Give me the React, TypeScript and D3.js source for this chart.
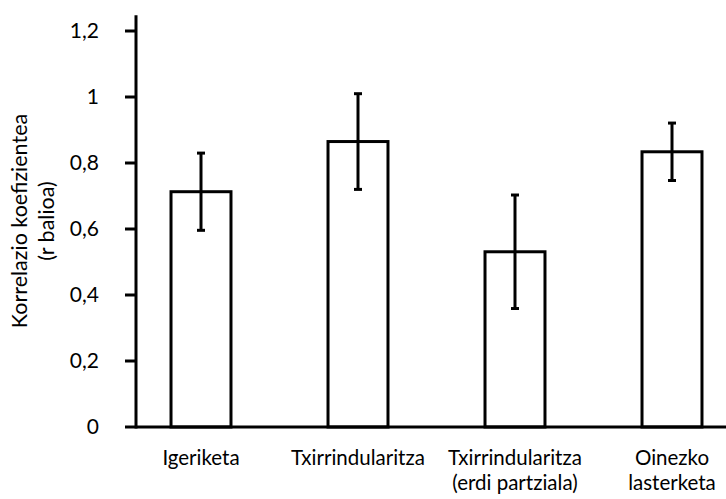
import React from "react";
import * as d3 from "d3";

const categories: string[][] = [
  ["Igeriketa"],
  ["Txirrindularitza"],
  ["Txirrindularitza", "(erdi partziala)"],
  ["Oinezko", "lasterketa"],
];
const values = [0.713, 0.865, 0.531, 0.834];
const errors = [0.117, 0.145, 0.172, 0.087];
const yTicks = [0, 0.2, 0.4, 0.6, 0.8, 1, 1.2];
const yTitle = ["Korrelazio koefizientea", "(r balioa)"];

const W = 726;
const H = 499;

export default function App() {
  const y = d3.scaleLinear().domain([0, 1.2]).range([427, 31]);
  const x = d3
    .scaleBand<number>()
    .domain(d3.range(categories.length))
    .range([122.5, 750.5])
    .paddingInner(0.618)
    .paddingOuter(0.309);
  const axisX = 136;
  const font = "Lato, 'Open Sans', sans-serif";
  const fmt = (v: number) => String(v).replace(".", ",");
  return (
    <svg
      width={W}
      height={H}
      style={{ position: "absolute", left: 0, top: 0, background: "#fff" }}
      fontFamily={font}
    >
      <rect x={0} y={0} width={W} height={H} fill="#fff" />
      {values.map((v, i) => (
        <rect
          key={"b" + i}
          x={x(i)!}
          y={y(v)}
          width={x.bandwidth()}
          height={y(0) - y(v)}
          fill="#fff"
          stroke="#000"
          strokeWidth={3}
        />
      ))}
      {values.map((v, i) => {
        const cx = x(i)! + x.bandwidth() / 2;
        const y1 = y(v + errors[i]);
        const y2 = y(v - errors[i]);
        return (
          <g key={"e" + i} stroke="#000" strokeWidth={3}>
            <line x1={cx} x2={cx} y1={y1} y2={y2} />
            <line x1={cx - 4} x2={cx + 4} y1={y1} y2={y1} />
            <line x1={cx - 4} x2={cx + 4} y1={y2} y2={y2} />
          </g>
        );
      })}
      <line x1={axisX} x2={W} y1={y(0)} y2={y(0)} stroke="#000" strokeWidth={3} />
      <line x1={axisX} x2={axisX} y1={y(1.248)} y2={y(0) + 1.5} stroke="#000" strokeWidth={3} />
      {yTicks.map((t) => (
        <g key={"t" + t}>
          <line x1={125} x2={axisX} y1={y(t)} y2={y(t)} stroke="#000" strokeWidth={3} />
          <text
            x={99}
            y={y(t)}
            dy="0.35em"
            textAnchor="end"
            fontSize={21}
            fill="#000"
          >
            {fmt(t)}
          </text>
        </g>
      ))}
      {categories.map((lines, i) => (
        <text
          key={"c" + i}
          x={x(i)! + x.bandwidth() / 2}
          y={465}
          textAnchor="middle"
          fontSize={20.5}
          fill="#000"
        >
          {lines.map((l, j) => (
            <tspan key={j} x={x(i)! + x.bandwidth() / 2} dy={j === 0 ? 0 : 24.5}>
              {l}
            </tspan>
          ))}
        </text>
      ))}
      <text
        transform="translate(27,221) rotate(-90)"
        textAnchor="middle"
        fontSize={21.5}
        fill="#000"
      >
        <tspan x={0} dy={0}>{yTitle[0]}</tspan>
        <tspan x={0} dy={27}>{yTitle[1]}</tspan>
      </text>
    </svg>
  );
}
